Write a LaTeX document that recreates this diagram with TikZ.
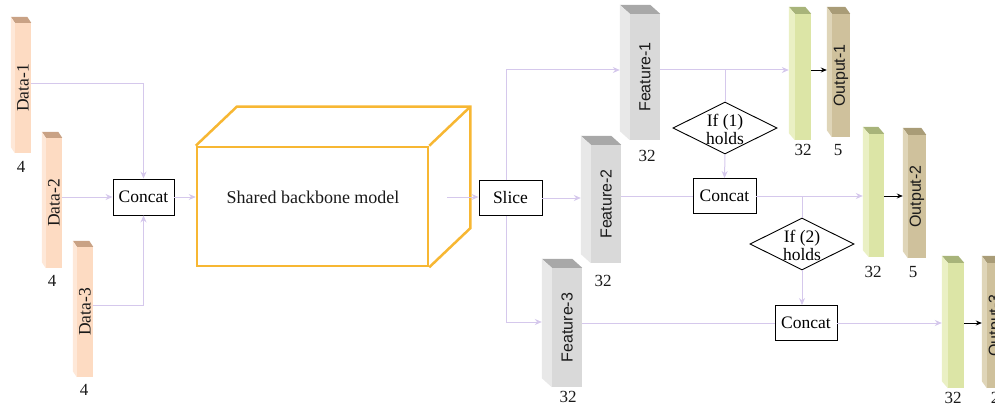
\documentclass[tikz,border=0pt]{standalone}
\usepackage{fontspec}
\setmainfont{Liberation Serif}
\newfontfamily\lsans{Liberation Sans}
\usetikzlibrary{shapes.geometric,arrows.meta,fit,calc}
\definecolor{dataF}{HTML}{FDDBC2}
\definecolor{dataS}{HTML}{FEE8D8}
\definecolor{dataT}{HTML}{C9A285}
\definecolor{featF}{HTML}{D9D9D9}
\definecolor{featS}{HTML}{E8E8E8}
\definecolor{featT}{HTML}{A8A8A8}
\definecolor{grnF}{HTML}{DCE5A6}
\definecolor{grnS}{HTML}{EAF0C4}
\definecolor{grnT}{HTML}{A8B47A}
\definecolor{outF}{HTML}{CFC19C}
\definecolor{outS}{HTML}{DFD5B8}
\definecolor{outT}{HTML}{A99C77}
\definecolor{conn}{HTML}{D5C8EC}
\definecolor{cubeC}{HTML}{F7B733}
\newcommand\prism[8]{%
  \node[fit={(#2,#3)(#4,#5)}, inner sep=0pt, fill=#8F] (#1) {};
  \fill[#8T] (#1.north west) -- (#1.north east) -- ([shift={(-#6,-#7)}]#1.north east) -- ([shift={(-#6,-#7)}]#1.north west) -- cycle;
  \fill[#8S] (#1.north west) -- ([shift={(-#6,-#7)}]#1.north west) -- ([shift={(-#6,-#7)}]#1.south west) -- (#1.south west) -- cycle;
  \coordinate (#1in) at ([xshift=-#6pt]#1.west);
}
\tikzset{
  lab/.style={font=\fontsize{17}{17}\selectfont, inner sep=0pt, text=black!90},
  vlab/.style={rotate=90, font=\fontsize{17.5}{17.5}\selectfont, inner sep=0pt, text=black!90},
  vslab/.style={rotate=90, font=\lsans\fontsize{16}{16}\selectfont, inner sep=0pt, text=black!90},
  box/.style={draw, fill=white, line width=0.9pt, minimum height=36pt, font=\fontsize{17.5}{18}\selectfont, inner sep=0pt},
  dia/.style={diamond, draw, line width=0.9pt, minimum width=104pt, minimum height=52pt, inner sep=0pt},
  dtext/.style={align=center, font=\fontsize{17.5}{18}\selectfont, inner sep=0pt},
  con/.style={draw=conn, line width=1pt},
  arr/.style={con, -{Stealth[length=7pt,width=6pt]}},
  barr/.style={draw=black, line width=0.9pt, -{Stealth[length=6pt,width=5pt]}},
}
\begin{document}
\begin{tikzpicture}[x=1pt,y=-1pt]
\useasboundingbox (0,0) rectangle (995,406);
\clip (0,0) rectangle (995,406);
% data bars
\prism{d1}{15}{23}{31}{153}{4}{6}{data}
\prism{d2}{46}{138}{62}{268}{4}{6}{data}
\prism{d3}{77}{247}{93}{377}{4}{6}{data}
\node[vlab] (d1t) at (d1) {Data-1};
\node[vlab] (d2t) at (d2) {Data-2};
\node[vlab] (d3t) at (d3) {Data-3};
\node[lab] (d1n) at (21,167) {4};
\node[lab] (d2n) at (52,281) {4};
\node[lab] (d3n) at (84,390) {4};
% concat 1
\node[box, minimum width=61pt] (c1) at (143.5,197) {Concat};
\draw[arr] ([yshift=4pt]d1.east) -| (c1.north);
\draw[arr] (d2.east |- c1) -- (c1.west);
\draw[arr] ([yshift=7pt]d3.east) -| (c1.south);
% cube
\node[fit={(197,147)(428,266)}, inner sep=0pt, draw=cubeC, line width=2.5pt] (cube) {};
\draw[cubeC, line width=2.5pt, line join=miter]
  (cube.north west) -- ([shift={(41,-39)}]cube.north west) -- ([shift={(41,-39)}]cube.north east)
  -- ([shift={(41,-39)}]cube.south east) -- (cube.south east);
\draw[cubeC, line width=2.5pt] (cube.north east) -- ([shift={(41,-39)}]cube.north east);
\node[font=\fontsize{18}{18}\selectfont, text=black!90] (cubetext) at (313,197) {Shared backbone model};
\draw[arr] (c1.east) -- (cube.west |- c1);
% slice
\coordinate (cubeout) at (447,197);
\node[box, minimum width=63pt, minimum height=35pt] (slice) at (510.5,198) {Slice};
\draw[arr] (cubeout) -- (slice.west |- cubeout);
% features
\prism{f1}{630}{14}{660}{140}{10}{9}{feat}
\prism{f2}{591}{145}{621}{263}{10}{9}{feat}
\prism{f3}{552}{268}{582}{387}{10}{9}{feat}
\node[vslab] (f1t) at (f1) {Feature-1};
\node[vslab] (f2t) at (f2) {Feature-2};
\node[vslab] (f3t) at (f3) {Feature-3};
\node[lab] (f1n) at (647,156) {32};
\node[lab] (f2n) at (603,281) {32};
\node[lab] (f3n) at (568,397) {32};
\coordinate (sv1) at (506,70);
\coordinate (sv3) at (506,322);
\draw[arr] (slice.north -| sv1) |- (f1in |- sv1);
\draw[arr] (slice.east) -- (f2in |- slice.east);
\draw[arr] (slice.south -| sv3) |- (f3in |- sv3);
% heads and outputs
\prism{g1}{795}{14}{811}{140}{6}{7}{grn}
\prism{o1}{832}{14}{850}{137}{5}{7}{out}
\prism{g2}{869}{134}{884}{257}{6}{7}{grn}
\prism{o2}{908}{135}{926}{258}{5}{7}{out}
\prism{g3}{948}{263}{964}{388}{6}{7}{grn}
\prism{o3}{987}{263}{1005}{388}{5}{7}{out}
\node[vslab] (o1t) at (o1) {Output-1};
\node[vslab] (o2t) at (o2) {Output-2};
\node[vslab] (o3t) at (o3) {Output-3};
\node[lab] (g1n) at (803,150) {32};
\node[lab] (o1n) at (838,150) {5};
\node[lab] (g2n) at (873,272) {32};
\node[lab] (o2n) at (913,272) {5};
\node[lab] (g3n) at (953,398) {32};
\node[lab] (o3n) at (995,398) {2};
% branch 1
\coordinate (r1) at (725,70);
\node[dia] (dia1) at (725,128) {};
\node[dtext] (dia1t) at (725,129) {If (1)\\holds};
\node[box, minimum width=63pt, minimum height=35pt] (c2) at (724.5,196) {Concat};
\draw[arr] (f1.east |- r1) -- (g1in |- r1);
\draw[con] (r1) -- (dia1.north);
\draw[arr] (dia1.south) -- (c2.north);
\draw[con] (f2.east |- c2) -- (c2.west);
\draw[arr] (c2.east) -- (g2in |- c2);
\draw[barr] (g1.east |- r1) -- (o1in |- r1);
% branch 2
\coordinate (r2) at (802,196);
\node[dia] (dia2) at (802,244) {};
\node[dtext] (dia2t) at (802,245) {If (2)\\holds};
\node[box, minimum width=62pt, minimum height=35pt] (c3) at (806,323) {Concat};
\draw[con] (r2) -- (dia2.north);
\draw[arr] (dia2.south) -- (dia2.south |- c3.north);
\draw[con] (f3.east |- c3) -- (c3.west);
\draw[arr] (c3.east) -- (g3in |- c3);
\draw[barr] (g2.east |- c2) -- (o2in |- c2);
\draw[barr] (g3.east |- c3) -- (o3in |- c3);
\end{tikzpicture}
\end{document}
